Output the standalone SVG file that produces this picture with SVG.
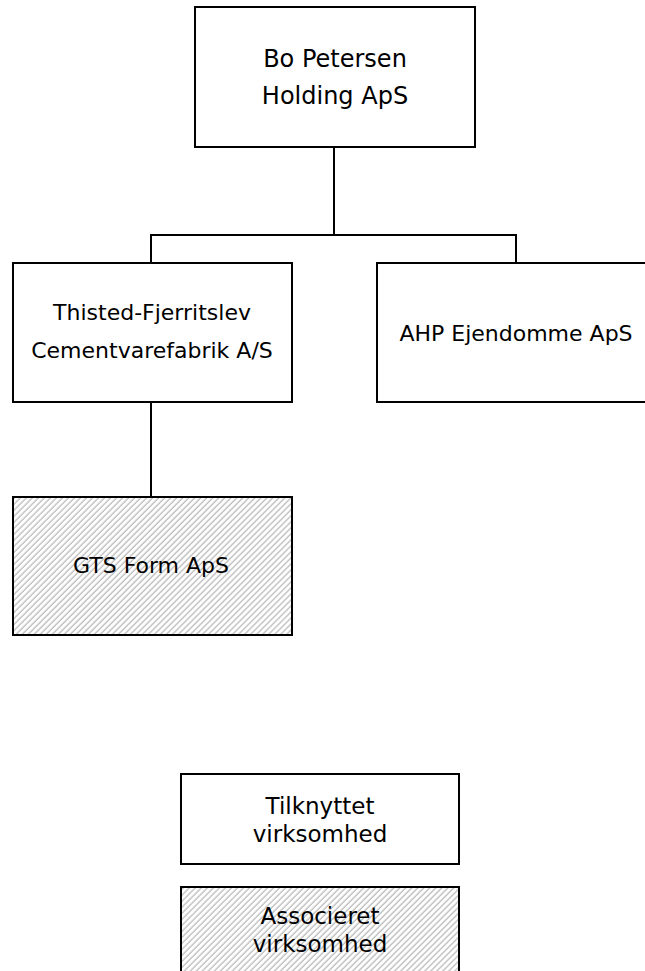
<svg xmlns="http://www.w3.org/2000/svg" width="645" height="971" viewBox="0 0 645 971">
<style>
.box{fill:#fff;stroke:#000;stroke-width:2}
.hbox{fill:url(#hatch);stroke:#000;stroke-width:2}
.wire{fill:none;stroke:#000;stroke-width:2}
text{font-family:"DejaVu Sans","Liberation Sans",sans-serif;fill:#000;text-anchor:middle}
.t19{font-size:22px}
.t22{font-size:24px}
.lg{font-size:23px}
</style>
<defs>
<pattern id="hatch" patternUnits="userSpaceOnUse" width="4.25" height="4.25" patternTransform="rotate(45)">
<rect width="4.25" height="4.25" fill="#fff"/>
<line x1="1" y1="0" x2="1" y2="4.25" stroke="#bcbcbc" stroke-width="1.3"/>
</pattern>
</defs>
<g id="connectors">
<path class="wire" d="M334 147V235M151 263V235H516V263M151 403V497"/>
</g>
<g id="bo-petersen">
<rect class="box" x="195" y="7" width="280" height="140"/>
<text class="t22" x="335" y="67">Bo Petersen</text>
<text class="t22" x="335" y="104">Holding ApS</text>
</g>
<g id="thisted">
<rect class="box" x="13" y="263" width="279" height="139"/>
<text class="t19" x="152" y="320">Thisted-Fjerritslev</text>
<text class="t19" x="152" y="358">Cementvarefabrik A/S</text>
</g>
<g id="ahp">
<rect class="box" x="377" y="263" width="279" height="139"/>
<text class="t19" x="516" y="341">AHP Ejendomme ApS</text>
</g>
<g id="gts">
<rect class="hbox" x="13" y="497" width="279" height="138"/>
<text class="t19" x="151" y="573">GTS Form ApS</text>
</g>
<g id="legend-tilknyttet">
<rect class="box" x="181" y="774" width="278" height="90"/>
<text class="lg" x="320" y="814">Tilknyttet</text>
<text class="lg" x="320" y="842">virksomhed</text>
</g>
<g id="legend-associeret">
<rect class="hbox" x="181" y="887" width="278" height="100"/>
<text class="lg" x="320" y="924">Associeret</text>
<text class="lg" x="320" y="952">virksomhed</text>
</g>
</svg>
